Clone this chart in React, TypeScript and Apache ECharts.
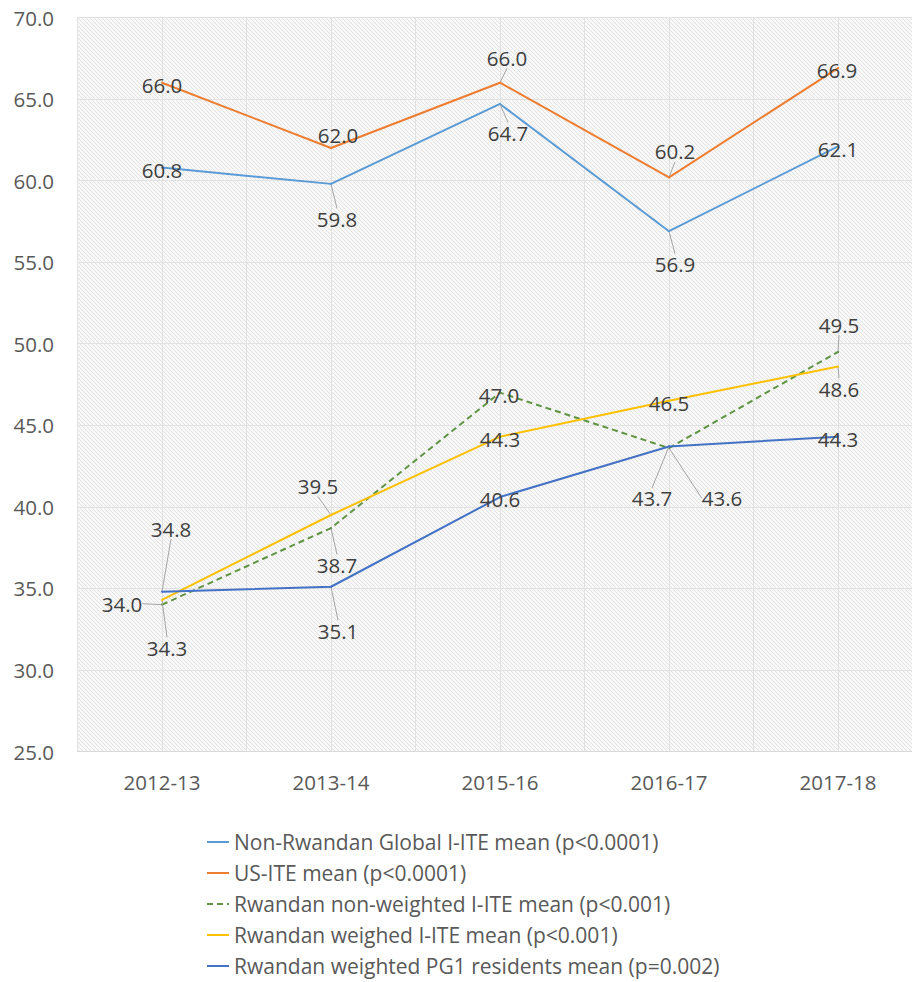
import React, { useEffect, useRef } from "react";
import * as echarts from "echarts";

const categories = ["2012-13", "2013-14", "2015-16", "2016-17", "2017-18"];

const seriesNames = [
  "Non-Rwandan Global I-ITE mean (p<0.0001)",
  "US-ITE mean (p<0.0001)",
  "Rwandan non-weighted I-ITE mean (p<0.001)",
  "Rwandan weighed I-ITE mean (p<0.001)",
  "Rwandan weighted PG1 residents mean (p=0.002)",
];

const nonRwandanGlobal = [60.8, 59.8, 64.7, 56.9, 62.1];
const usIte = [66.0, 62.0, 66.0, 60.2, 66.9];
const rwandanNonWeighted = [34.0, 38.7, 47.0, 43.6, 49.5];
const rwandanWeighed = [34.3, 39.5, 44.3, 46.5, 48.6];
const rwandanPG1 = [34.8, 35.1, 40.6, 43.7, 44.3];

const yMin = 25;
const yMax = 70;
const yInterval = 5;

// label placement (px offset of label centre from its point)
const labelOffsets: number[][][] = [
  [[0, 2], [6, 35], [8, 29], [6, 33], [0, 3]],
  [[0, 2], [7, -13], [7, -25], [6, -26], [-1, 2]],
  [[-40, -1], [6, 37], [-1, 2], [53, 50], [1, -27]],
  [[5, 48], [-13, -29], [0, 2], [0, 2], [1, 22]],
  [[9, -63], [7, 44], [0, 2], [-17, 52], [0, 2]],
];

const colors = ["#5B9BD5", "#ED7D31", "#5E9442", "#FFC000", "#4472C4"];
const FONT = "'Open Sans', 'Noto Sans', sans-serif";

function makePattern() {
  const c = document.createElement("canvas");
  c.width = 4;
  c.height = 4;
  const ctx = c.getContext("2d")!;
  ctx.fillStyle = "#f8f8f8";
  ctx.fillRect(0, 0, 4, 4);
  ctx.fillStyle = "#e3e3e3";
  for (let i = 0; i < 4; i++) ctx.fillRect(i, i, 1, 1);
  return c;
}

export default function App() {
  const ref = useRef<HTMLDivElement>(null);
  useEffect(() => {
    if (!ref.current) return;
    const chart = echarts.init(ref.current, null, { renderer: "svg" });
    const allValues = [nonRwandanGlobal, usIte, rwandanNonWeighted, rwandanWeighed, rwandanPG1];
    let bg: any = "#f0f0f0";
    try {
      bg = { image: makePattern(), repeat: "repeat" };
    } catch (e) {
      bg = "#f0f0f0";
    }
    const series = allValues.map((vals, si) => ({
      name: seriesNames[si],
      type: "line",
      data: vals.map((v, di) => {
        const [dx, dy] = labelOffsets[si][di];
        const far = Math.sqrt(dx * dx + dy * dy) > 20;
        return { value: v, labelLine: { show: far } };
      }),
      showSymbol: true,
      symbol: "circle",
      symbolSize: 2,
      lineStyle: {
        color: colors[si],
        width: 2,
        type: si === 2 ? [6, 4] : "solid",
      },
      itemStyle: { color: colors[si] },
      emphasis: { disabled: true },
      z: 2 + si,
      label: {
        show: true,
        position: "inside",
        formatter: (p: any) => Number(p.value).toFixed(1),
        color: "#404040",
        fontSize: 20.5,
        fontFamily: FONT,
        lineHeight: 21,
      },
      labelLine: {
        show: true,
        lineStyle: { color: "#a6a6a6", width: 1 },
      },
      labelLayout: (params: any) => {
        const [dx, dy] = labelOffsets[params.seriesIndex][params.dataIndex];
        const r = params.rect;
        return {
          x: r.x + r.width / 2 + dx,
          y: r.y + r.height / 2 + dy,
          align: "center",
          verticalAlign: "middle",
        };
      },
    }));

    chart.setOption({
      animation: false,
      backgroundColor: "#ffffff",
      grid: {
        left: 77.5,
        top: 17.5,
        width: 845,
        height: 734,
        show: true,
        backgroundColor: bg,
        borderWidth: 0,
        outerBoundsMode: "none",
        containLabel: false,
      },
      xAxis: [
        {
          type: "category",
          data: categories,
          boundaryGap: true,
          axisLine: { show: true, lineStyle: { color: "#d9d9d9", width: 1 } },
          axisTick: { show: false },
          splitLine: { show: false },
          axisLabel: {
            color: "#595959",
            fontSize: 20.5,
            fontFamily: FONT,
            margin: 20,
            lineHeight: 21,
          },
        },
        {
          type: "category",
          data: ["", "", "", "", "", "", "", "", "", ""],
          boundaryGap: true,
          position: "bottom",
          axisLine: { show: false },
          axisTick: { show: false },
          axisLabel: { show: false },
          splitLine: { show: true, lineStyle: { color: "#e2e2e2", width: 1 } },
        },
      ],
      yAxis: {
        type: "value",
        min: yMin,
        max: yMax,
        interval: yInterval,
        axisLine: { show: false },
        axisTick: { show: false },
        splitLine: { show: true, lineStyle: { color: "#e2e2e2", width: 1 } },
        axisLabel: {
          color: "#595959",
          fontSize: 20.5,
          fontFamily: FONT,
          margin: 23.5,
          formatter: (v: number) => v.toFixed(1),
        },
      },
      legend: {
        orient: "vertical",
        left: 206,
        top: 831.5,
        padding: 0,
        itemWidth: 22,
        itemHeight: 14,
        itemGap: 10,
        data: seriesNames,
        itemStyle: { opacity: 0 },
        textStyle: {
          color: "#595959",
          fontSize: 21,
          fontFamily: FONT,
          lineHeight: 21,
        },
      },
      series,
    });
    return () => chart.dispose();
  }, []);
  return (
    <div
      ref={ref}
      style={{ position: "absolute", left: 0, top: 0, width: 912, height: 982 }}
    />
  );
}
